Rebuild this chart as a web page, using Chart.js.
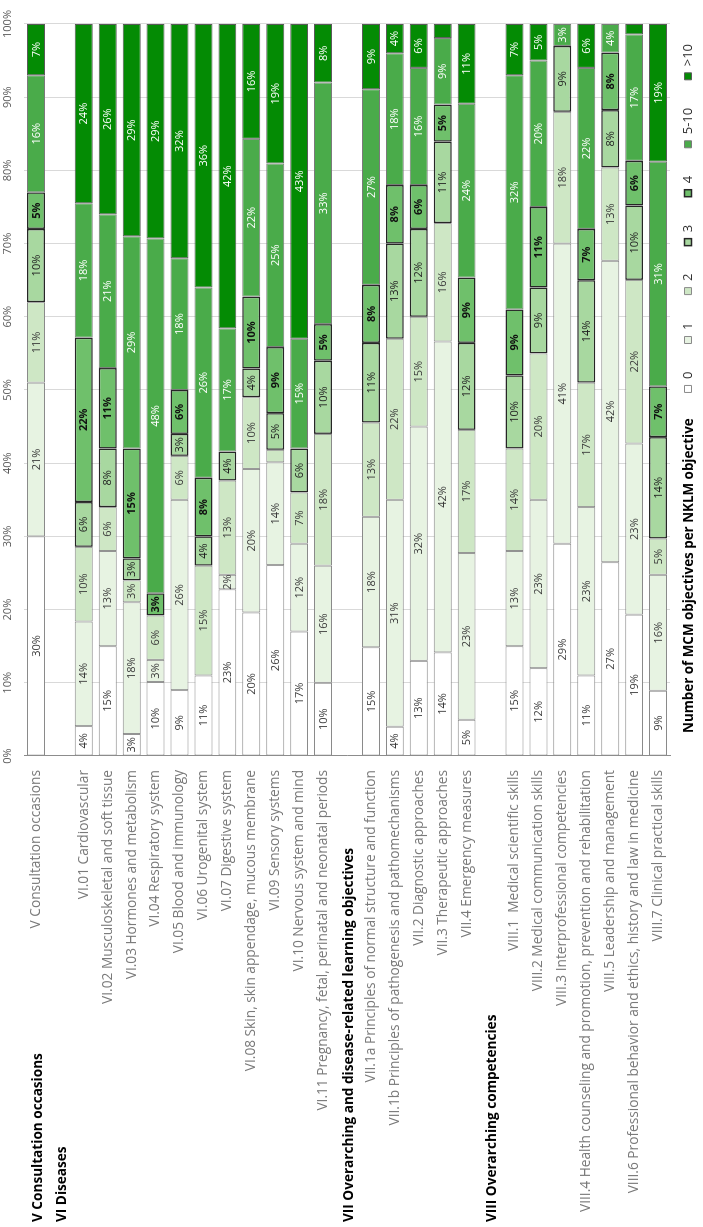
<!DOCTYPE html>
<html>
<head>
<meta charset="utf-8">
<script src="https://cdn.jsdelivr.net/npm/chart.js@4.4.1/dist/chart.umd.min.js"></script>
<style>
  html, body { margin: 0; padding: 0; background: #ffffff; overflow: hidden; width: 703px; height: 1227px; }
  #wrap { position: absolute; left: 0; top: 0; width: 1227px; height: 703px;
          transform-origin: 0 0; transform: translate(0px, 1227px) rotate(-90deg); background: #fff; }
</style>
</head>
<body>
<div id="wrap"><canvas id="c" width="1227" height="703"></canvas></div>
<script>
// ---- data (percent of NKLM objectives by number of MCM objectives) ----
const categories = [
  'V Consultation occasions', '',
  'VI.01 Cardiovascular', 'VI.02 Musculoskeletal and soft tissue', 'VI.03 Hormones and metabolism',
  'VI.04 Respiratory system', 'VI.05 Blood and immunology', 'VI.06 Urogenital system',
  'VI.07 Digestive system', 'VI.08 Skin, skin appendage, mucous membrane', 'VI.09 Sensory systems',
  'VI.10 Nervous system and mind', 'VI.11 Pregnancy, fetal, perinatal and neonatal periods', '',
  'VII.1a Principles of normal structure and function', 'VII.1b Principles of pathogenesis and pathomechanisms',
  'VII.2 Diagnostic approaches', 'VII.3 Therapeutic approaches', 'VII.4 Emergency measures', '',
  'VIII.1  Medical scientific skills', 'VIII.2 Medical communication skills', 'VIII.3 Interprofessional competencies',
  'VIII.4 Health counseling and promotion, prevention and rehabilitation', 'VIII.5 Leadership and management',
  'VIII.6 Professional behavior and ethics, history and law in medicine', 'VIII.7 Clinical practical skills'
];
const groupHeaders = [
  'V Consultation occasions', 'VI Diseases', '', '', '', '', '', '', '', '', '', '', '',
  'VII Overarching and disease-related learning objectives', '', '', '', '', '',
  'VIII Overarching competencies', '', '', '', '', '', '', ''
];
const seriesNames = ['0', '1', '2', '3', '4', '5-10', '>10'];
const s0   = [30, null, 4, 15, 3, 10, 9, 11, 23, 20, 26, 17, 10, null, 15, 4, 13, 14, 5, null, 15, 12, 29, 11, 27, 19, 9];
const s1   = [21, null, 14, 13, 18, 3, 26, 0, 2, 20, 14, 12, 16, null, 18, 31, 32, 42, 23, null, 13, 23, 41, 23, 42, 23, 16];
const s2   = [11, null, 10, 6, 3, 6, 6, 15, 13, 10, 1.7, 7, 18, null, 13, 22, 15, 16, 17, null, 14, 20, 18, 17, 13, 22, 5];
const s3   = [10, null, 6, 8, 3, 0, 3, 4, 4, 4, 5, 6, 10, null, 11, 13, 12, 11, 12, null, 10, 9, 9, 14, 8, 10, 14];
const s4   = [5, null, 22, 11, 15, 3, 6, 8, 0, 10, 9, 0, 5, null, 8, 8, 6, 5, 9, null, 9, 11, 0, 7, 8, 6, 7];
const s510 = [16, null, 18, 21, 29, 48, 18, 26, 17, 22, 25, 15, 33, null, 27, 18, 16, 9, 24, null, 32, 20, 3, 22, 4, 17, 31];
const s10  = [7, null, 24, 26, 29, 29, 32, 36, 42, 16, 19, 43, 8, null, 9, 4, 6, 1.9, 11, null, 7, 5, 0, 6, 0, 1.4, 19];
const percentTicks = [0, 10, 20, 30, 40, 50, 60, 70, 80, 90, 100];
const legendTitle = 'Number of MCM objectives per NKLM objective';

// ---- styling ----
const series = [s0, s1, s2, s3, s4, s510, s10];
const fills   = ['#ffffff', '#e7f3e2', '#cee7c5', '#a8d8a0', '#6fc06b', '#4aab4a', '#048b04'];
const borders = ['#8a8a8a', '#8a8a8a', '#8a8a8a', '#262626', '#262626', '#7a7a7a', '#5a5a5a'];
const bwidths = [1, 1, 1, 1.5, 1.5, 1, 1];
const labelColors = ['#3a3a3a', '#3a3a3a', '#3a3a3a', '#222222', '#111111', '#ffffff', '#ffffff'];
const labelWeights = ['normal', 'normal', 'normal', 'normal', 'bold', 'normal', 'normal'];

// Excel-style 100% stacking: each bar is scaled to its own total
const totals = categories.map((_, i) => series.reduce((a, s) => a + (s[i] == null ? 0 : s[i]), 0));

Chart.defaults.font.family = '"Open Sans", "Noto Sans", sans-serif';

const datasets = series.map((s, k) => ({
  label: seriesNames[k],
  data: s.map((v, i) => v == null ? null : v / totals[i] * 100),
  raw: s,
  backgroundColor: fills[k],
  borderColor: borders[k],
  borderWidth: bwidths[k],
  borderSkipped: false,
  categoryPercentage: 1.0,
  barPercentage: 0.75
}));

const segLabels = {
  id: 'segLabels',
  afterDatasetsDraw(chart) {
    const ctx = chart.ctx;
    ctx.save();
    ctx.textAlign = 'center';
    ctx.textBaseline = 'middle';
    chart.data.datasets.forEach((ds, k) => {
      const meta = chart.getDatasetMeta(k);
      meta.data.forEach((bar, i) => {
        const v = ds.raw[i];
        if (v == null || v < 2) return;
        const p = bar.getProps(['x', 'y', 'base'], true);
        ctx.font = labelWeights[k] + ' 11px "Open Sans", sans-serif';
        ctx.fillStyle = labelColors[k];
        ctx.fillText(Math.round(v) + '%', (p.x + p.base) / 2, p.y + 0.5);
      });
    });
    ctx.restore();
  }
};

const TEXT_ROW_Y = 688;   // centre line of the title / legend row
const LEG_PAD = 28;
const LEG_FONT = 13;

const headersAndTitle = {
  id: 'headersAndTitle',
  afterLayout(chart) {
    // place legend row level with the title text (and keep its clip box inside the canvas)
    const lg = chart.legend;
    lg.top = TEXT_ROW_Y - LEG_PAD - LEG_FONT / 2;
    lg.bottom = chart.height;
    lg.height = lg.bottom - lg.top;
  },
  afterDraw(chart) {
    const ctx = chart.ctx;
    const ys = chart.scales.y;
    ctx.save();
    ctx.textAlign = 'left';
    ctx.textBaseline = 'middle';
    ctx.fillStyle = '#000000';
    ctx.font = 'bold 13.6px "Open Sans", sans-serif';
    groupHeaders.forEach((h, i) => {
      if (!h) return;
      ctx.fillText(h, 5, ys.getPixelForValue(i) + 2);
    });
    ctx.font = 'bold 13.4px "Open Sans", sans-serif';
    ctx.fillText(legendTitle, chart.chartArea.left + 23, TEXT_ROW_Y + 1);
    ctx.restore();
  }
};

new Chart(document.getElementById('c'), {
  type: 'bar',
  data: { labels: categories, datasets },
  options: {
    indexAxis: 'y',
    responsive: false,
    animation: false,
    devicePixelRatio: 1,
    layout: { padding: { left: 0, right: 16, top: 0, bottom: 0 } },
    plugins: {
      tooltip: { enabled: false },
      legend: {
        position: 'bottom',
        align: 'end',
        maxHeight: 33,
        labels: {
          boxWidth: 7, boxHeight: 7, padding: LEG_PAD,
          color: '#333333',
          font: { size: LEG_FONT }
        }
      }
    },
    scales: {
      x: {
        position: 'top',
        stacked: true,
        min: 0, max: 100,
        afterBuildTicks: (s) => { s.ticks = percentTicks.map(v => ({ value: v })); },
        afterFit: (s) => { s.height = 24; },
        ticks: { callback: (v) => v + '%', color: '#595959', font: { size: 11 }, padding: 10, maxRotation: 0 },
        grid: { color: '#d9d9d9', drawTicks: false },
        border: { display: false }
      },
      y: {
        stacked: true,
        afterFit: (s) => { s.width = 471; },
        ticks: { autoSkip: false, color: '#7a7a7a', font: { size: 13.7 }, padding: 14 },
        grid: { drawOnChartArea: false, drawTicks: false },
        border: { display: true, color: '#8c8c8c', width: 1 }
      }
    }
  },
  plugins: [segLabels, headersAndTitle]
});
</script>
</body>
</html>
